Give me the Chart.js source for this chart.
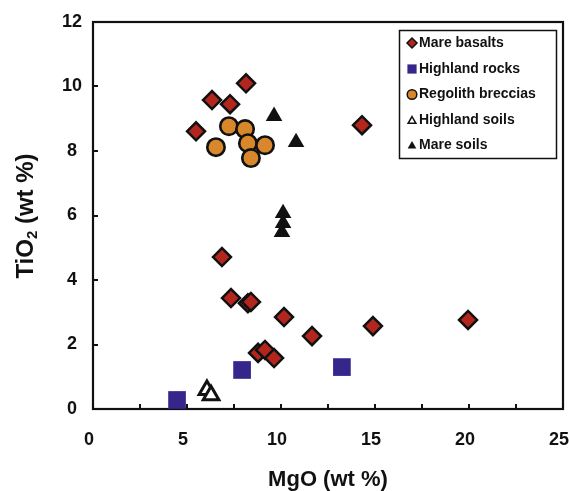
<!DOCTYPE html>
<html><head><meta charset="utf-8">
<script src="https://cdn.jsdelivr.net/npm/chart.js@4.4.1/dist/chart.umd.min.js"></script>
<style>html,body{margin:0;padding:0;background:#fff}#wrap{width:569px;height:491px}</style>
</head><body><div id="wrap"><canvas id="c" width="569" height="491"></canvas></div>
<script>
// ---- data ----
const categories = ['Mare basalts','Highland rocks','Regolith breccias','Highland soils','Mare soils'];
const mareBasaltsMgO  = [5.48,6.33,7.29,8.14,14.31,6.86,7.34,8.24,8.40,10.16,11.65,8.78,9.15,9.63,14.89,19.95];
const mareBasaltsTiO2 = [8.61,9.58,9.45,10.10,8.80,4.71,3.44,3.28,3.32,2.85,2.26,1.74,1.83,1.58,2.57,2.76];
const highlandRocksMgO  = [4.47,7.93,13.24];
const highlandRocksTiO2 = [0.28,1.21,1.30];
const regolithBrecciasMgO  = [7.23,8.09,6.54,8.24,9.15,8.40];
const regolithBrecciasTiO2 = [8.77,8.68,8.12,8.24,8.18,7.78];
const highlandSoilsMgO  = [6.06,6.28];
const highlandSoilsTiO2 = [0.59,0.43];
const mareSoilsMgO  = [9.63,10.80,10.11,10.11,10.05];
const mareSoilsTiO2 = [9.08,8.27,6.07,5.76,5.48];
const xTickLabels = ['0','5','10','15','20','25'];
const yTickLabels = ['0','2','4','6','8','10','12'];
const xTitle = 'MgO (wt %)';
const yTitleParts = ['TiO','2',' (wt %)'];

const FONT = "'Liberation Sans', Arial, Helvetica, sans-serif";
const pts = (xs, ys) => xs.map((x, i) => ({x: x, y: ys[i]}));

const datasets = [
  {label: categories[0], data: pts(mareBasaltsMgO, mareBasaltsTiO2), pointStyle: 'rectRot', pointRadius: 9,
   backgroundColor: '#B3261E', borderColor: '#111', borderWidth: 2.5, order: 5},
  {label: categories[1], data: pts(highlandRocksMgO, highlandRocksTiO2), pointStyle: 'rect', pointRadius: 12.5,
   backgroundColor: '#35268C', borderColor: '#35268C', borderWidth: 0, order: 4},
  {label: categories[2], data: pts(regolithBrecciasMgO, regolithBrecciasTiO2), pointStyle: 'circle', pointRadius: 8.7,
   backgroundColor: '#D9872B', borderColor: '#111', borderWidth: 2.6, order: 3},
  {label: categories[3], data: pts(highlandSoilsMgO, highlandSoilsTiO2), pointStyle: 'triangle', pointRadius: 9,
   backgroundColor: '#fff', borderColor: '#111', borderWidth: 3, order: 2},
  {label: categories[4], data: pts(mareSoilsMgO, mareSoilsTiO2), pointStyle: 'triangle', pointRadius: 9.6,
   backgroundColor: '#111', borderColor: '#111', borderWidth: 0, order: 1}
];
datasets.forEach(d => { d.pointHoverRadius = d.pointRadius; });

const legendMarkers = [
  {pointStyle: 'rectRot', radius: 5, backgroundColor: '#B3261E', borderColor: '#111', borderWidth: 1.5},
  {pointStyle: 'rect', radius: 6.5, backgroundColor: '#35268C', borderColor: '#35268C', borderWidth: 0},
  {pointStyle: 'circle', radius: 4.8, backgroundColor: '#D9872B', borderColor: '#111', borderWidth: 1.5},
  {pointStyle: 'triangle', radius: 4.5, backgroundColor: '#fff', borderColor: '#111', borderWidth: 1.5},
  {pointStyle: 'triangle', radius: 5, backgroundColor: '#111', borderColor: '#111', borderWidth: 0}
];

const framePlugin = {
  id: 'frame',
  beforeDatasetsDraw(chart) {
    const {ctx, chartArea: a, scales: {x, y}} = chart;
    ctx.save();
    ctx.strokeStyle = '#111';
    ctx.lineWidth = 2;
    ctx.beginPath();
    x.ticks.forEach(t => {
      if (t.value <= x.min || t.value >= x.max) return;
      const px = Math.round(x.getPixelForValue(t.value));
      ctx.moveTo(px, a.bottom); ctx.lineTo(px, a.bottom - 5);
    });
    y.ticks.forEach(t => {
      if (t.value <= y.min || t.value >= y.max) return;
      const py = Math.round(y.getPixelForValue(t.value));
      ctx.moveTo(a.left, py); ctx.lineTo(a.left + 5, py);
    });
    ctx.stroke();
    ctx.lineWidth = 2.2;
    ctx.strokeRect(a.left, a.top, a.right - a.left, a.bottom - a.top);
    ctx.restore();
  },
  afterDraw(chart) {
    const {ctx, chartArea: a} = chart;
    ctx.save();
    // y-axis title with subscript
    const big = "bold 24px " + FONT, small = "bold 15px " + FONT;
    ctx.font = big; const w0 = ctx.measureText(yTitleParts[0]).width;
    const w2 = ctx.measureText(yTitleParts[2]).width;
    ctx.font = small; const w1 = ctx.measureText(yTitleParts[1]).width;
    const total = w0 + w1 + w2;
    ctx.translate(26, 216);
    ctx.rotate(-Math.PI / 2);
    ctx.fillStyle = '#111';
    ctx.textBaseline = 'middle';
    ctx.textAlign = 'left';
    let cx = -total / 2;
    ctx.font = big; ctx.fillText(yTitleParts[0], cx, 0); cx += w0;
    ctx.font = small; ctx.fillText(yTitleParts[1], cx, 7); cx += w1;
    ctx.font = big; ctx.fillText(yTitleParts[2], cx, 0);
    ctx.restore();

    // legend box
    ctx.save();
    const box = {l: 399.5, t: 30.5, r: 556.5, b: 158.5};
    ctx.fillStyle = '#fff';
    ctx.fillRect(box.l, box.t, box.r - box.l, box.b - box.t);
    ctx.strokeStyle = '#111'; ctx.lineWidth = 1.5;
    ctx.strokeRect(box.l, box.t, box.r - box.l, box.b - box.t);
    const rowY = [43, 69, 94.5, 120, 145];
    ctx.font = "bold 14px " + FONT;
    ctx.textBaseline = 'middle'; ctx.textAlign = 'left';
    chart.data.datasets.forEach((ds, i) => {
      const m = legendMarkers[i];
      ctx.fillStyle = m.backgroundColor; ctx.strokeStyle = m.borderColor; ctx.lineWidth = m.borderWidth || 0.0001;
      Chart.helpers.drawPoint(ctx, {pointStyle: m.pointStyle, radius: m.radius, rotation: 0, borderWidth: m.borderWidth}, 412, rowY[i] + (m.pointStyle === 'triangle' ? 1 : 0));
      ctx.fillStyle = '#111';
      ctx.fillText(ds.label, 419, rowY[i]);
    });
    ctx.restore();
  }
};

new Chart(document.getElementById('c'), {
  type: 'scatter',
  data: {datasets: datasets},
  options: {
    responsive: false,
    devicePixelRatio: 1,
    animation: false,
    events: [],
    layout: {autoPadding: false, padding: {left: 0, right: 6, top: 22, bottom: 0}},
    plugins: {legend: {display: false}, tooltip: {enabled: false}, title: {display: false}},
    scales: {
      x: {
        type: 'linear', min: 0, max: 25,
        grid: {display: false, drawTicks: false},
        border: {display: false},
        ticks: {
          stepSize: 2.5, autoSkip: false, maxRotation: 0, padding: 20, labelOffset: -4,
          color: '#111', font: {family: FONT, size: 18, weight: 'bold'},
          callback: v => (Math.abs(v % 5) < 1e-9 ? xTickLabels[Math.round(v / 5)] : '')
        },
        title: {display: true, text: xTitle, color: '#111', font: {family: FONT, size: 22, weight: 'bold'}, padding: {top: 0, bottom: -2}},
        afterFit: s => { s.height = 82; s.paddingLeft = 0; s.paddingRight = 0; }
      },
      y: {
        type: 'linear', min: 0, max: 12,
        grid: {display: false, drawTicks: false},
        border: {display: false},
        ticks: {
          stepSize: 2, autoSkip: false, padding: 11, crossAlign: 'center',
          color: '#111', font: {family: FONT, size: 18, weight: 'bold'},
          callback: v => yTickLabels[Math.round(v / 2)]
        },
        afterFit: s => { s.width = 93; s.paddingTop = 0; s.paddingBottom = 0; }
      }
    }
  },
  plugins: [framePlugin]
});
</script>
</body></html>
